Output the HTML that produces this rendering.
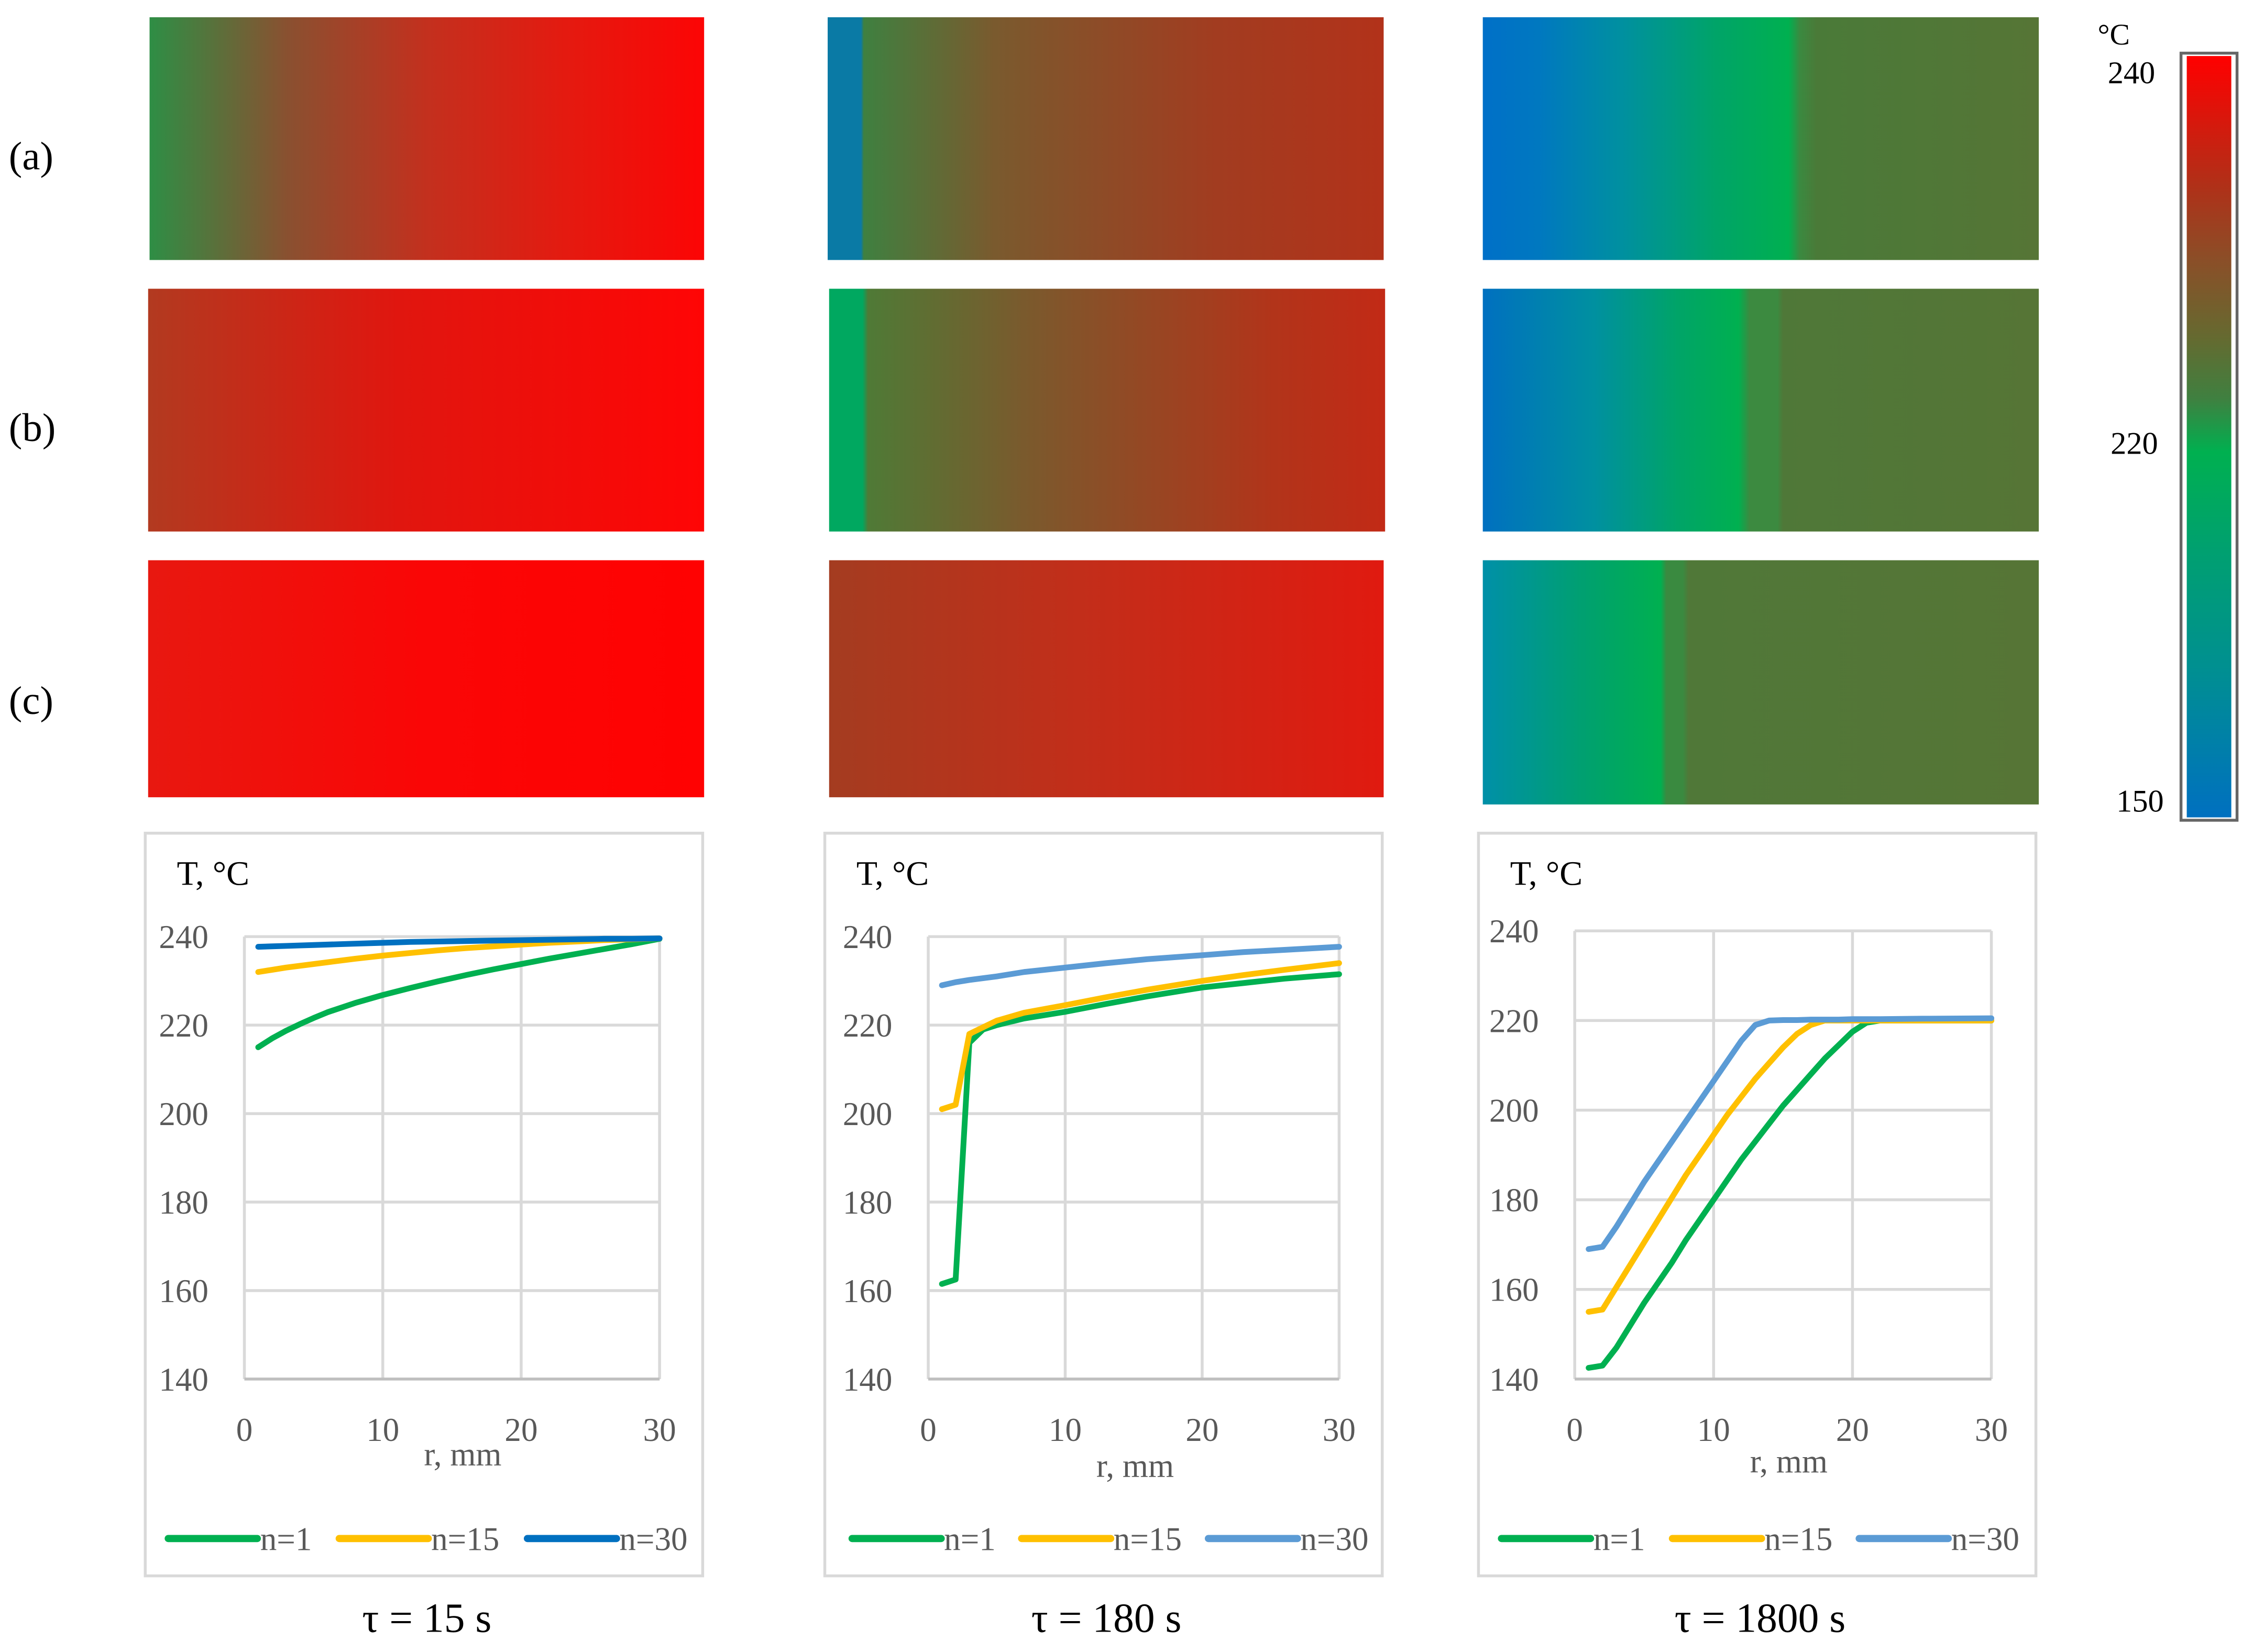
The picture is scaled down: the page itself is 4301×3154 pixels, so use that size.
<!DOCTYPE html>
<html><head><meta charset="utf-8"><style>
html,body{margin:0;padding:0;background:#fff;width:4301px;height:3154px;overflow:hidden}
svg{display:block}
text{font-family:"Liberation Serif",serif}
</style></head><body>
<svg id="fig" width="4301" height="3154" viewBox="0 0 1568 1150" xmlns="http://www.w3.org/2000/svg">
<defs>
<linearGradient id="ga1" x1="0" x2="1" y1="0" y2="0"><stop offset="0" stop-color="#2e8e45"/><stop offset="0.25" stop-color="#8a5030"/><stop offset="0.5" stop-color="#c3301e"/><stop offset="0.75" stop-color="#e41a10"/><stop offset="1" stop-color="#fc0505"/></linearGradient>
<linearGradient id="ga2" x1="0" x2="1" y1="0" y2="0"><stop offset="0" stop-color="#0a7aa5"/><stop offset="0.06" stop-color="#0a7aa5"/><stop offset="0.065" stop-color="#3f8040"/><stop offset="0.3" stop-color="#7a5a2e"/><stop offset="0.7" stop-color="#a23c20"/><stop offset="1" stop-color="#b2321a"/></linearGradient>
<linearGradient id="ga3" x1="0" x2="1" y1="0" y2="0"><stop offset="0" stop-color="#0070c8"/><stop offset="0.1" stop-color="#0078c0"/><stop offset="0.25" stop-color="#0090a0"/><stop offset="0.42" stop-color="#00a468"/><stop offset="0.55" stop-color="#00b050"/><stop offset="0.57" stop-color="#3a8a40"/><stop offset="0.6" stop-color="#4a7a38"/><stop offset="1" stop-color="#567536"/></linearGradient>
<linearGradient id="gb1" x1="0" x2="1" y1="0" y2="0"><stop offset="0" stop-color="#b23a20"/><stop offset="0.45" stop-color="#e0160f"/><stop offset="1" stop-color="#ff0505"/></linearGradient>
<linearGradient id="gb2" x1="0" x2="1" y1="0" y2="0"><stop offset="0" stop-color="#00a860"/><stop offset="0.06" stop-color="#00a860"/><stop offset="0.07" stop-color="#4f7a36"/><stop offset="0.35" stop-color="#7a5a2d"/><stop offset="0.8" stop-color="#b2341a"/><stop offset="1" stop-color="#c22a16"/></linearGradient>
<linearGradient id="gb3" x1="0" x2="1" y1="0" y2="0"><stop offset="0" stop-color="#0070c0"/><stop offset="0.2" stop-color="#0090a0"/><stop offset="0.35" stop-color="#00a468"/><stop offset="0.46" stop-color="#00b050"/><stop offset="0.48" stop-color="#3c8a40"/><stop offset="0.53" stop-color="#3c8a40"/><stop offset="0.54" stop-color="#4f7838"/><stop offset="1" stop-color="#567536"/></linearGradient>
<linearGradient id="gc1" x1="0" x2="1" y1="0" y2="0"><stop offset="0" stop-color="#e81810"/><stop offset="0.5" stop-color="#fa0606"/><stop offset="1" stop-color="#ff0202"/></linearGradient>
<linearGradient id="gc2" x1="0" x2="1" y1="0" y2="0"><stop offset="0" stop-color="#a43c20"/><stop offset="0.45" stop-color="#c22e1a"/><stop offset="1" stop-color="#e01a10"/></linearGradient>
<linearGradient id="gc3" x1="0" x2="1" y1="0" y2="0"><stop offset="0" stop-color="#0090a8"/><stop offset="0.18" stop-color="#00a070"/><stop offset="0.32" stop-color="#00b050"/><stop offset="0.33" stop-color="#3a8a40"/><stop offset="0.36" stop-color="#3a8a40"/><stop offset="0.37" stop-color="#507838"/><stop offset="1" stop-color="#567536"/></linearGradient>
<linearGradient id="gbar" x1="0" x2="0" y1="0" y2="1"><stop offset="0" stop-color="#ff0000"/><stop offset="0.17" stop-color="#b03018"/><stop offset="0.27" stop-color="#8a4f28"/><stop offset="0.37" stop-color="#656a30"/><stop offset="0.45" stop-color="#3f8040"/><stop offset="0.52" stop-color="#00b050"/><stop offset="0.65" stop-color="#00a070"/><stop offset="0.8" stop-color="#009090"/><stop offset="1" stop-color="#0070c0"/></linearGradient>
</defs>

<text x="6" y="118" font-size="28">(a)</text>
<text x="6" y="307" font-size="28">(b)</text>
<text x="6" y="497" font-size="28">(c)</text>

<rect x="104" y="12" width="386" height="169" fill="url(#ga1)"/>
<rect x="576" y="12" width="387" height="169" fill="url(#ga2)"/>
<rect x="1032" y="12" width="387" height="169" fill="url(#ga3)"/>
<rect x="103" y="201" width="387" height="169" fill="url(#gb1)"/>
<rect x="577" y="201" width="387" height="169" fill="url(#gb2)"/>
<rect x="1032" y="201" width="387" height="169" fill="url(#gb3)"/>
<rect x="103" y="390" width="387" height="165" fill="url(#gc1)"/>
<rect x="577" y="390" width="386" height="165" fill="url(#gc2)"/>
<rect x="1032" y="390" width="387" height="170" fill="url(#gc3)"/>

<g>
<rect x="1518" y="37" width="39" height="534" fill="#fff" stroke="#666" stroke-width="2"/>
<rect x="1522" y="39" width="31" height="530" fill="url(#gbar)"/>
<text x="1460" y="31" font-size="21">°C</text>
<text x="1467" y="58" font-size="22">240</text>
<text x="1469" y="316" font-size="22">220</text>
<text x="1473" y="565" font-size="22">150</text>
</g>

<g id="charts"></g>

<text x="297" y="1136" font-size="29" text-anchor="middle">τ = 15 s</text>
<text x="770" y="1136" font-size="29" text-anchor="middle">τ = 180 s</text>
<text x="1225" y="1136" font-size="29" text-anchor="middle">τ = 1800 s</text>
</svg>
<script>
// chart data
const seriesNames = ["n=1","n=15","n=30"];
const yTicks = [140,160,180,200,220,240];
const xTicks = [0,10,20,30];
// tau = 15 s
const c1_r = [1,2,3,4,5,6,8,10,12,14,16,18,20,22,24,26,28,30];
const c1_n1 = [215,217,218.7,220.2,221.6,222.9,225,226.8,228.4,229.9,231.3,232.6,233.8,235,236.1,237.2,238.3,239.5];
const c1_n15 = [232,232.5,233,233.4,233.8,234.2,235,235.7,236.3,236.9,237.4,237.8,238.2,238.6,238.9,239.2,239.4,239.6];
const c1_n30 = [237.7,237.8,237.9,238,238.1,238.2,238.4,238.6,238.8,238.9,239,239.1,239.2,239.3,239.4,239.5,239.5,239.6];
// tau = 180 s
const c2_r = [1,2,3,4,5,7,10,13,16,20,23,26,30];
const c2_n1 = [161.5,162.5,216,219,220,221.5,223,224.8,226.5,228.5,229.5,230.5,231.5];
const c2_n15 = [201,202,218,219.5,221,222.8,224.5,226.3,228,230,231.3,232.5,234];
const c2_n30 = [229,229.7,230.2,230.6,231,232,233,234,234.9,235.8,236.5,237,237.7];
// tau = 1800 s
const c3_r = [1,2,3,4,5,6,7,8,9,10,11,12,13,14,15,16,17,18,19,20,21,22,25,30];
const c3_n1 = [142.5,143,147,152,157,161.5,166,171,175.5,180,184.5,189,193,197,201,204.5,208,211.5,214.5,217.5,219.5,220,220,220];
const c3_n15 = [155,155.5,160.5,165.5,170.5,175.5,180.5,185.5,190,194.5,199,203,207,210.5,214,217,219,220,220,220,220,220,220,220];
const c3_n30 = [169,169.5,174,179,184,188.5,193,197.5,202,206.5,211,215.5,219,220,220.1,220.1,220.2,220.2,220.2,220.3,220.3,220.3,220.4,220.5];

const NS="http://www.w3.org/2000/svg";
const root=document.getElementById('charts');
function mk(tag,attrs,parent){const e=document.createElementNS(NS,tag);for(const k in attrs)e.setAttribute(k,attrs[k]);(parent||root).appendChild(e);return e;}

const charts=[
 {id:'15s',box:[101,580,388,517],px:[170,459],py:[652,960],yl:145,xty:1003,xt:[322,1020],r:c1_r,s:[c1_n1,c1_n15,c1_n30],blue:'#0070c0',legx:[117,236,367]},
 {id:'180s',box:[574,580,388,517],px:[646,932],py:[652,960],yl:621,xty:1003,xt:[790,1028],r:c2_r,s:[c2_n1,c2_n15,c2_n30],blue:'#5b9bd5',legx:[593,711,841]},
 {id:'1800s',box:[1029,580,388,517],px:[1096,1386],py:[648,960],yl:1071,xty:1003,xt:[1245,1025],r:c3_r,s:[c3_n1,c3_n15,c3_n30],blue:'#5b9bd5',legx:[1045,1164,1294]}
];
charts.forEach(c=>{
 const g=mk('g',{});
 
 
 const b=mk('rect',{x:c.box[0],y:c.box[1],width:c.box[2],height:c.box[3],fill:'#fff',stroke:'#d9d9d9','stroke-width':2},g);
 
 
 const X=v=>c.px[0]+(v-0)/30*(c.px[1]-c.px[0]);
 const Y=v=>c.py[1]-(v-140)/100*(c.py[1]-c.py[0]);
 yTicks.forEach(t=>{
  const l=mk('line',{x1:c.px[0],x2:c.px[1],y1:Y(t),y2:Y(t),stroke:'#d9d9d9','stroke-width':2},g);
  
  
  const tx=mk('text',{x:c.yl,y:Y(t)+8,'font-size':23,fill:'#595959','text-anchor':'end'},g);
  tx.textContent=t;
  
  
 });
 xTicks.forEach(t=>{
  const l=mk('line',{x1:X(t),x2:X(t),y1:c.py[0],y2:c.py[1],stroke:'#d9d9d9','stroke-width':2},g);
  
  
  const tx=mk('text',{x:X(t),y:c.xty,'font-size':23,fill:'#595959','text-anchor':'middle'},g);
  tx.textContent=t;
  
  
 });
 const ax=mk('line',{x1:c.px[0],x2:c.px[1],y1:c.py[1],y2:c.py[1],stroke:'#bfbfbf','stroke-width':2},g);
 
 
 const yt=mk('text',{x:c.box[0]+22,y:616,'font-size':24,fill:'#000'},g);
 yt.textContent='T, °C';
 
 
 const xt=mk('text',{x:c.xt[0],y:c.xt[1],'font-size':23,fill:'#595959','text-anchor':'middle'},g);
 xt.textContent='r, mm';
 
 
 const cols=['#00b050','#ffc000',c.blue];
 c.s.forEach((vals,i)=>{
  const d=vals.map((v,k)=>(k?'L':'M')+X(c.r[k]).toFixed(2)+','+Y(v).toFixed(2)).join(' ');
  const p=mk('path',{d:d,fill:'none',stroke:cols[i],'stroke-width':4,'stroke-linejoin':'round','stroke-linecap':'round'},g);
  
  
  const lx=c.legx[i];
  const ll=mk('line',{x1:lx,x2:lx+62,y1:1071,y2:1071,stroke:cols[i],'stroke-width':5,'stroke-linecap':'round'},g);
  
  
  const lt=mk('text',{x:lx+64,y:1079,'font-size':23,fill:'#595959'},g);
  lt.textContent=seriesNames[i];
  
  
 });
});
</script>
</body></html>
